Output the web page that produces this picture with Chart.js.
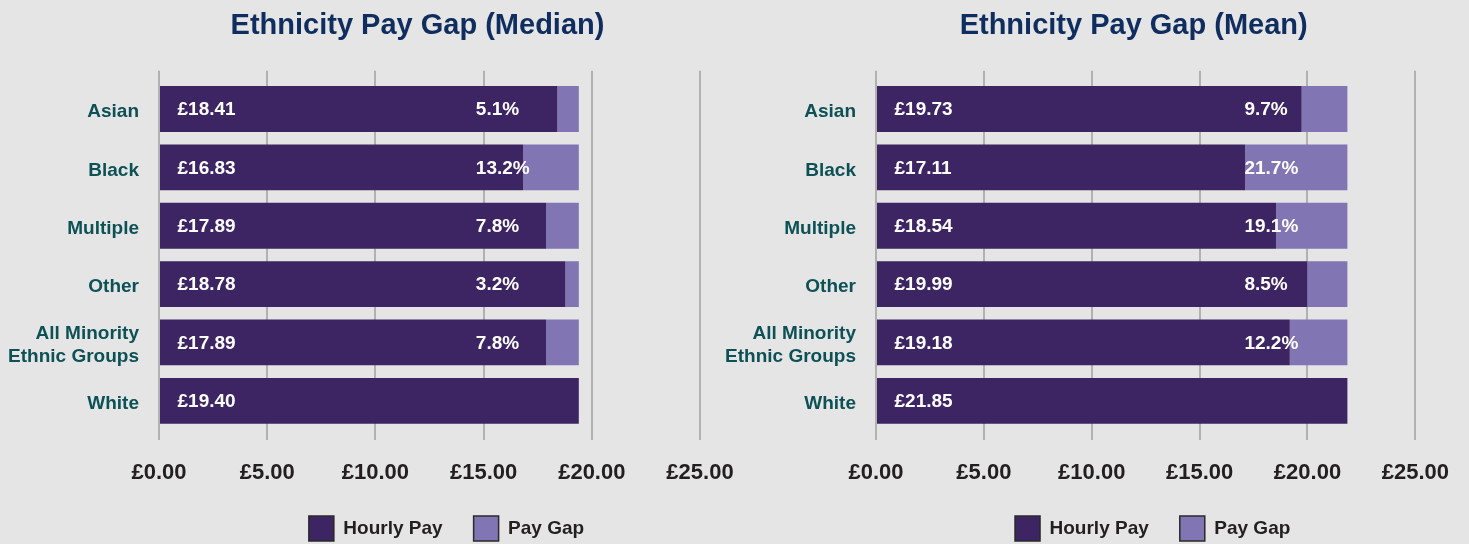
<!DOCTYPE html>
<html>
<head>
<meta charset="utf-8">
<script src="https://cdn.jsdelivr.net/npm/chart.js@4/dist/chart.umd.min.js"></script>
<style>
  html, body { margin: 0; padding: 0; background: #e4e5e4; overflow: hidden; }
  .box { position: absolute; top: 0; height: 551px; }
</style>
</head>
<body>
<div class="box" style="left:0;width:760px"><canvas id="median"></canvas></div>
<div class="box" style="left:720px;width:749px"><canvas id="mean"></canvas></div>
<script>
const categories = ["Asian", "Black", "Multiple", "Other", ["All Minority", "Ethnic Groups"], "White"];

const medianHourly = [18.41, 16.83, 17.89, 18.78, 17.89, 19.40];
const medianGap = [0.99, 2.57, 1.51, 0.62, 1.51, 0];
const medianGapLabels = ["5.1%", "13.2%", "7.8%", "3.2%", "7.8%", ""];

const meanHourly = [19.73, 17.11, 18.54, 19.99, 19.18, 21.85];
const meanGap = [2.12, 4.74, 3.31, 1.86, 2.67, 0];
const meanGapLabels = ["9.7%", "21.7%", "19.1%", "8.5%", "12.2%", ""];

const xMin = 0, xMax = 25, xStep = 5;

const FONT = '"Liberation Sans", Arial, sans-serif';
Chart.defaults.font.family = FONT;

// value labels inside the bars
const barLabels = {
  id: "barLabels",
  afterDatasetsDraw(chart, args, opts) {
    const ctx = chart.ctx;
    const x0 = chart.scales.x.getPixelForValue(0);
    ctx.save();
    ctx.font = "bold 19px " + FONT;
    ctx.fillStyle = "#ffffff";
    ctx.textAlign = "left";
    ctx.textBaseline = "middle";
    chart.getDatasetMeta(0).data.forEach((bar, i) => {
      ctx.fillText("£" + chart.data.datasets[0].data[i].toFixed(2), x0 + 18.5, bar.y + 1);
    });
    chart.getDatasetMeta(1).data.forEach((bar, i) => {
      const t = opts.gapLabels[i];
      if (t) ctx.fillText(t, bar.x - 103, bar.y + 1);
    });
    ctx.restore();
  }
};

// nudge title / legend sideways like the original layout
const shift = {
  id: "shift",
  afterLayout(chart, args, opts) {
    if (chart.titleBlock) {
      chart.titleBlock.left += opts.title;
      chart.titleBlock.right += opts.title;
    }
    if (chart.legend) {
      chart.legend.left += opts.legend;
      chart.legend.right += opts.legend;
    }
  }
};

function makeChart(id, title, hourly, gap, gapLabels, cfg) {
  const ctx = document.getElementById(id).getContext("2d");
  return new Chart(ctx, {
    type: "bar",
    data: {
      labels: categories,
      datasets: [
        {
          label: "Hourly Pay",
          data: hourly,
          backgroundColor: "#3d2462",
          borderWidth: 0,
          categoryPercentage: 1,
          barPercentage: 0.785
        },
        {
          label: "Pay Gap",
          data: gap,
          backgroundColor: "#8175b4",
          borderWidth: 0,
          categoryPercentage: 1,
          barPercentage: 0.785
        }
      ]
    },
    options: {
      indexAxis: "y",
      responsive: true,
      maintainAspectRatio: false,
      animation: false,
      layout: { padding: { left: 0, right: cfg.padRight, top: 0, bottom: 0 } },
      scales: {
        x: {
          stacked: true,
          min: xMin,
          max: xMax,
          ticks: {
            stepSize: xStep,
            color: "#231f20",
            font: { size: 22, weight: "bold" },
            padding: 20,
            callback: (v) => "£" + Number(v).toFixed(2)
          },
          grid: { color: "#b1b1b1", lineWidth: 2, tickLength: 10 },
          border: { display: false },
          afterFit: (scale) => { scale.height = 55; }
        },
        x2: {
          position: "top",
          min: xMin,
          max: xMax,
          ticks: { display: false, stepSize: xStep },
          grid: { color: "#b1b1b1", lineWidth: 2, tickLength: 9, drawOnChartArea: false },
          border: { display: false }
        },
        y: {
          stacked: true,
          ticks: {
            color: "#0d5056",
            font: { size: 19, weight: "bold" },
            padding: 20,
            labelOffset: 3
          },
          grid: { display: false, drawTicks: false },
          border: { display: false },
          afterFit: (scale) => { scale.width = cfg.yWidth; }
        }
      },
      plugins: {
        title: {
          display: true,
          text: title,
          fullSize: false,
          color: "#0f2d5f",
          font: { size: 29, weight: "bold" },
          padding: { top: 9, bottom: 27 }
        },
        legend: {
          position: "bottom",
          fullSize: false,
          labels: {
            color: "#231f20",
            font: { size: 19, weight: "bold" },
            boxWidth: 25,
            boxHeight: 25,
            padding: 31,
            generateLabels(chart) {
              const items = Chart.defaults.plugins.legend.labels.generateLabels(chart);
              items.forEach((it) => { it.strokeStyle = "#2a2a2a"; it.lineWidth = 1.5; });
              return items;
            }
          }
        },
        tooltip: { enabled: false },
        barLabels: { gapLabels: gapLabels },
        shift: { title: cfg.titleShift, legend: cfg.legendShift }
      }
    },
    plugins: [barLabels, shift]
  });
}

makeChart("median", "Ethnicity Pay Gap (Median)", medianHourly, medianGap, medianGapLabels,
  { yWidth: 159, padRight: 60, titleShift: -12, legendShift: 17 });
makeChart("mean", "Ethnicity Pay Gap (Mean)", meanHourly, meanGap, meanGapLabels,
  { yWidth: 156, padRight: 49, titleShift: -12, legendShift: 7 });
</script>
</body>
</html>
